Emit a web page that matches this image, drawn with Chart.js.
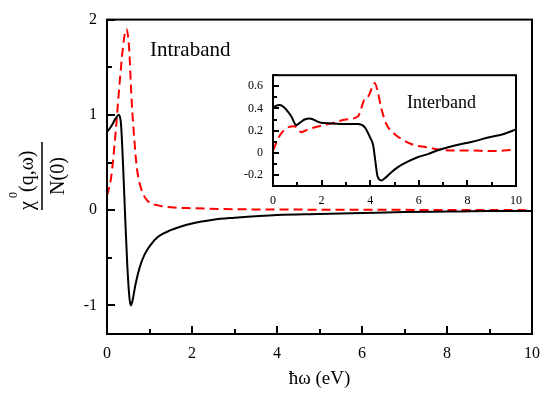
<!DOCTYPE html>
<html>
<head>
<meta charset="utf-8">
<script src="https://cdn.jsdelivr.net/npm/chart.js@4.4.1/dist/chart.umd.min.js"></script>
<style>
  html, body { margin: 0; padding: 0; background: #fff; }
  #wrap { position: relative; width: 550px; height: 397px; }
  #mainChart { position: absolute; left: 0; top: 0; }
  #insetChart { position: absolute; left: 225px; top: 58px; }
</style>
</head>
<body>
<div id="wrap">
  <canvas id="mainChart" width="550" height="397"></canvas>
  <canvas id="insetChart" width="305" height="152"></canvas>
</div>
<script>
// intraband (main panel)
const intraRealX = [0, 0.1, 0.2, 0.28, 0.33, 0.38, 0.43, 0.48, 0.53, 0.56, 0.6, 0.67, 0.77, 0.88, 1.0, 1.2, 1.5, 2.0, 2.5, 3.0, 4.0, 5.0, 6.0, 7.0, 8.0, 9.0, 10.0];
const intraRealY = [0.82, 0.88, 0.96, 1.0, 0.9, 0.45, -0.1, -0.6, -0.93, -1.0, -0.95, -0.78, -0.6, -0.47, -0.38, -0.28, -0.21, -0.14, -0.1, -0.08, -0.05, -0.04, -0.03, -0.02, -0.015, -0.01, -0.01];
const intraImagX = [0, 0.1, 0.2, 0.3, 0.4, 0.46, 0.52, 0.58, 0.65, 0.7, 0.77, 0.85, 0.93, 1.0, 1.2, 1.5, 2.0, 3.0, 5.0, 7.0, 10.0];
const intraImagY = [0.15, 0.35, 0.8, 1.35, 1.8, 1.9, 1.7, 1.15, 0.7, 0.45, 0.28, 0.17, 0.11, 0.08, 0.05, 0.03, 0.02, 0.01, 0.005, 0.003, 0.0];

// interband (inset)
const interRealX = [0, 0.1, 0.28, 0.45, 0.62, 0.75, 0.96, 1.16, 1.3, 1.5, 1.97, 2.4, 3.0, 3.5, 3.78, 3.99, 4.12, 4.22, 4.3, 4.46, 4.6, 4.85, 5.14, 5.5, 5.95, 6.4, 6.75, 7.57, 8.2, 8.9, 9.5, 10];
const interRealY = [0.40, 0.42, 0.43, 0.41, 0.37, 0.33, 0.25, 0.28, 0.30, 0.31, 0.27, 0.265, 0.26, 0.26, 0.23, 0.14, 0.07, -0.09, -0.21, -0.25, -0.23, -0.18, -0.13, -0.085, -0.04, -0.01, 0.02, 0.07, 0.1, 0.14, 0.17, 0.21];
const interImagX = [0, 0.28, 0.62, 0.89, 1.16, 1.43, 1.9, 2.4, 3.0, 3.5, 3.78, 3.92, 4.12, 4.19, 4.32, 4.46, 4.66, 5.0, 5.4, 5.8, 6.3, 6.8, 7.5, 8.1, 9.0, 9.5, 10];
const interImagY = [0.02, 0.155, 0.23, 0.24, 0.185, 0.21, 0.24, 0.265, 0.30, 0.33, 0.49, 0.51, 0.61, 0.63, 0.54, 0.40, 0.26, 0.17, 0.11, 0.07, 0.05, 0.03, 0.02, 0.02, 0.015, 0.02, 0.03];

// ticks
const mainXTicks = [0, 1, 2, 3, 4, 5, 6, 7, 8, 9, 10];
const mainYTicks = [-1, -0.5, 0, 0.5, 1, 1.5, 2];
const insetXTicks = [0, 1, 2, 3, 4, 5, 6, 7, 8, 9, 10];
const insetYTicks = [-0.3, -0.2, -0.1, 0, 0.1, 0.2, 0.3, 0.4, 0.5, 0.6, 0.7];
const insetYLabels = ['', '-0.2', '', '0', '', '0.2', '', '0.4', '', '0.6', ''];

Chart.defaults.font.family = '"Liberation Serif", "Times New Roman", serif';
Chart.defaults.color = '#000';

const pts = (xs, ys) => xs.map((x, i) => ({ x: x, y: ys[i] }));

// box round the plot and inward tick marks
const frame = {
  id: 'frame',
  afterDraw(chart, args, opts) {
    const { ctx, chartArea: a, scales: { x, y } } = chart;
    ctx.save();
    ctx.strokeStyle = '#000';
    ctx.lineWidth = opts.lw;
    ctx.strokeRect(a.left, a.top, a.width, a.height);
    ctx.beginPath();
    x.ticks.forEach((t) => {
      const px = Math.round(x.getPixelForValue(t.value));
      const len = t.label !== '' ? opts.major : opts.minor;
      ctx.moveTo(px, a.bottom);
      ctx.lineTo(px, a.bottom - len);
    });
    y.ticks.forEach((t) => {
      const py = Math.round(y.getPixelForValue(t.value));
      const len = t.label !== '' ? opts.major : opts.minor;
      ctx.moveTo(a.left, py);
      ctx.lineTo(a.left + len, py);
    });
    ctx.stroke();
    if (opts.text) {
      ctx.fillStyle = '#000';
      ctx.font = opts.textFont;
      ctx.textAlign = 'left';
      ctx.textBaseline = 'alphabetic';
      ctx.fillText(opts.text, opts.textX, opts.textY);
    }
    ctx.restore();
  },
};

// rotated fraction label chi^0(q,w) / N(0)
const yLabel = {
  id: 'yLabel',
  afterDraw(chart) {
    const ctx = chart.ctx;
    const fam = Chart.defaults.font.family;
    ctx.save();
    ctx.translate(42, 176);
    ctx.rotate(-Math.PI / 2);
    ctx.fillStyle = '#000';
    ctx.strokeStyle = '#000';
    ctx.textBaseline = 'alphabetic';
    ctx.textAlign = 'left';
    ctx.font = '20px ' + fam;
    ctx.fillText('χ', -34, -9);
    ctx.font = '12px ' + fam;
    ctx.fillText('0', -22, -25);
    ctx.font = '20px ' + fam;
    ctx.fillText('(q,ω)', -16, -9);
    ctx.lineWidth = 1.5;
    ctx.beginPath();
    ctx.moveTo(-34, 0);
    ctx.lineTo(34, 0);
    ctx.stroke();
    ctx.textAlign = 'center';
    ctx.fillText('N(0)', 0, 22);
    ctx.restore();
  },
};

new Chart(document.getElementById('mainChart'), {
  type: 'scatter',
  data: {
    datasets: [
      {
        data: pts(intraRealX, intraRealY),
        showLine: true,
        borderColor: '#000',
        borderWidth: 2,
        pointRadius: 0,
        cubicInterpolationMode: 'monotone',
      },
      {
        data: pts(intraImagX, intraImagY),
        showLine: true,
        borderColor: '#ff0000',
        borderWidth: 2,
        borderDash: [9, 5],
        pointRadius: 0,
        cubicInterpolationMode: 'monotone',
      },
    ],
  },
  options: {
    responsive: false,
    animation: false,
    events: [],
    layout: { padding: { left: 0, top: 15, right: 16, bottom: 0 } },
    plugins: {
      legend: { display: false },
      tooltip: { enabled: false },
      frame: { lw: 2, major: 8, minor: 5, text: 'Intraband', textFont: '21px "Liberation Serif", serif', textX: 150, textY: 56 },
    },
    scales: {
      x: {
        type: 'linear',
        min: 0,
        max: 10,
        afterBuildTicks: (s) => { s.ticks = mainXTicks.map((v) => ({ value: v })); },
        afterFit: (s) => { s.height = 63; },
        grid: { display: false, drawTicks: false },
        border: { display: false },
        ticks: {
          padding: 10,
          autoSkip: false,
          font: { size: 16 },
          maxRotation: 0,
          callback: (v) => (v % 2 === 0 ? String(v) : ''),
        },
        title: { display: true, text: 'ħω (eV)', font: { size: 19 }, padding: { top: 0, bottom: 7 } },
      },
      y: {
        type: 'linear',
        min: -1.3,
        max: 2,
        afterBuildTicks: (s) => { s.ticks = mainYTicks.map((v) => ({ value: v })); },
        afterFit: (s) => { s.width = 107; },
        grid: { display: false, drawTicks: false },
        border: { display: false },
        ticks: {
          padding: 10,
          autoSkip: false,
          font: { size: 16 },
          callback: (v) => (Number.isInteger(v) ? String(v) : ''),
        },
      },
    },
  },
  plugins: [frame, yLabel],
});

new Chart(document.getElementById('insetChart'), {
  type: 'scatter',
  data: {
    datasets: [
      {
        data: pts(interRealX, interRealY),
        showLine: true,
        borderColor: '#000',
        borderWidth: 2,
        pointRadius: 0,
        cubicInterpolationMode: 'monotone',
      },
      {
        data: pts(interImagX, interImagY),
        showLine: true,
        borderColor: '#ff0000',
        borderWidth: 2,
        borderDash: [9, 5],
        pointRadius: 0,
        cubicInterpolationMode: 'monotone',
      },
    ],
  },
  options: {
    responsive: false,
    animation: false,
    events: [],
    layout: { padding: { left: 0, top: 10, right: 10, bottom: 0 } },
    plugins: {
      legend: { display: false },
      tooltip: { enabled: false },
      frame: { lw: 2, major: 6, minor: 4, text: 'Interband', textFont: '18px "Liberation Serif", serif', textX: 182, textY: 50 },
    },
    scales: {
      x: {
        type: 'linear',
        min: 0,
        max: 10,
        afterBuildTicks: (s) => { s.ticks = insetXTicks.map((v) => ({ value: v })); },
        afterFit: (s) => { s.height = 24; },
        grid: { display: false, drawTicks: false },
        border: { display: false },
        ticks: {
          padding: 8,
          autoSkip: false,
          font: { size: 12 },
          maxRotation: 0,
          callback: (v) => (v % 2 === 0 ? String(v) : ''),
        },
      },
      y: {
        type: 'linear',
        min: -0.3,
        max: 0.7,
        afterBuildTicks: (s) => { s.ticks = insetYTicks.map((v) => ({ value: v })); },
        afterFit: (s) => { s.width = 48; },
        grid: { display: false, drawTicks: false },
        border: { display: false },
        ticks: {
          padding: 10,
          autoSkip: false,
          font: { size: 12 },
          callback: (v, i) => insetYLabels[i],
        },
      },
    },
  },
  plugins: [frame],
});
</script>
</body>
</html>
